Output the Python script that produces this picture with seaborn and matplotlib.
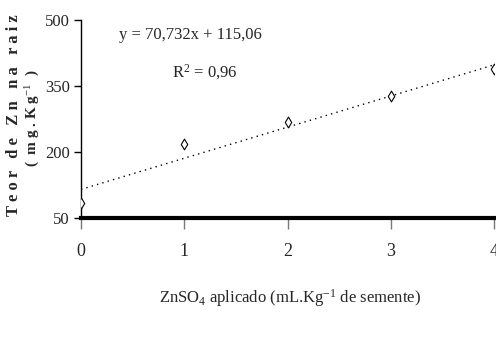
import matplotlib
matplotlib.use("Agg")
import matplotlib.pyplot as plt
import seaborn as sns
import pandas as pd

# data
doses = [0, 1, 2, 3, 4]
zn_raiz = [84, 218, 269, 327, 388]
slope = 70.732
intercept = 115.06
eq_text = "y = 70,732x + 115,06"
r2_text = "R$^2$ = 0,96"
x_ticks = [0, 1, 2, 3, 4]
y_ticks = [50, 200, 350, 500]

sns.set_theme(style="white")
plt.rcParams['font.family'] = ['Liberation Serif', 'DejaVu Serif']
plt.rcParams['mathtext.fontset'] = 'custom'
plt.rcParams['mathtext.rm'] = 'Liberation Serif'
plt.rcParams['mathtext.it'] = 'Liberation Serif:italic'

fig = plt.figure(figsize=(4.96, 3.44), dpi=100)
ax = fig.add_axes([81/496, 1-218/344, 413/496, 198/344])

df = pd.DataFrame({"x": doses, "y": zn_raiz})
fit = pd.DataFrame({"x": [doses[0], doses[-1]],
                    "y": [intercept + slope*doses[0], intercept + slope*doses[-1]]})
sns.lineplot(data=fit, x="x", y="y", ax=ax, color="black", lw=1.0,
             linestyle=(0, (1, 3)))
sns.scatterplot(data=df, x="x", y="y", ax=ax, marker="d", s=30,
                facecolor="white", edgecolor="black", linewidth=0.8, zorder=5)

ax.set_xlim(0, 4)
ax.set_ylim(50, 500)
ax.set_xticks(x_ticks)
ax.set_yticks(y_ticks)
ax.set_xticklabels([str(t) for t in x_ticks], fontsize=13)
ax.set_yticklabels([str(t) for t in y_ticks], fontsize=12)
ax.tick_params(axis='x', direction='out', length=8, width=1, color='#777777', pad=10, bottom=True)
ax.tick_params(axis='y', direction='out', length=5, width=1, color='black', pad=3, left=True)

for s in ['top', 'right']:
    ax.spines[s].set_visible(False)
ax.spines['left'].set_color('black')
ax.spines['left'].set_linewidth(1.0)
ax.spines['bottom'].set_color('black')
ax.spines['bottom'].set_linewidth(3.0)
ax.set_xlabel("")
ax.set_ylabel("")

ax.text(1.06, 466, eq_text, ha='center', va='center', fontsize=12)
ax.text(1.2, 382, r2_text, ha='center', va='center', fontsize=12)

fig.text(290/496, 1-298/344, r"ZnSO$_4$ aplicado (mL.Kg$^{-1}$ de semente)",
         ha='center', va='center', fontsize=12)
fig.text(14/496, 1-115/344, "T e o r   d e   Z n   n a   r a i z", rotation=90,
         ha='center', va='center', fontsize=12, fontweight='bold')
fig.text(33/496, 1-118/344, r"(  m g . K g$^{-1}$  )", rotation=90,
         ha='center', va='center', fontsize=11, fontweight='bold')

fig.savefig("out.png", dpi=100)
